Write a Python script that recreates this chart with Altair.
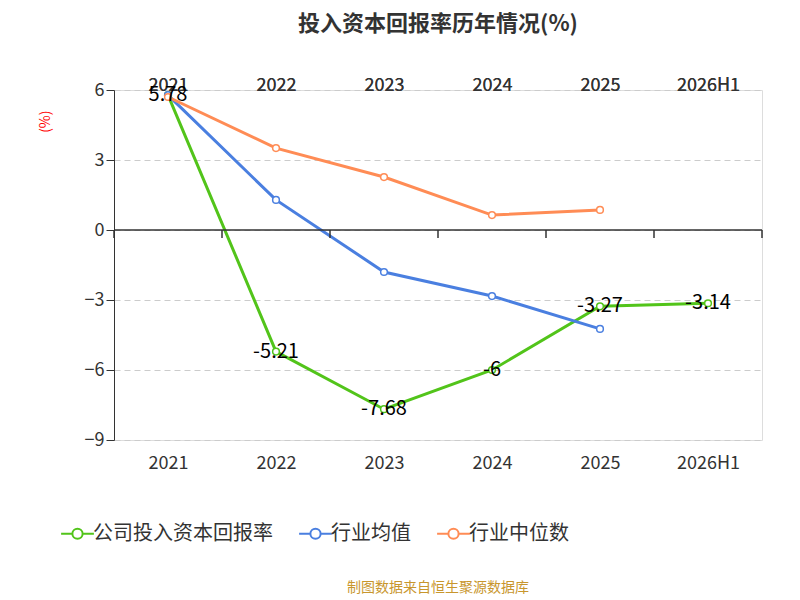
import altair as alt
import pandas as pd

years = ["2021", "2022", "2023", "2024", "2025", "2026H1"]
company = [5.78, -5.21, -7.68, -6, -3.27, -3.14]
industry_avg = [5.78, 1.29, -1.8, -2.83, -4.24, None]
industry_med = [5.7, 3.51, 2.27, 0.64, 0.86, None]
tick_pos = [0, 1, 2, 3, 4, 5, 6]

names = ["公司投入资本回报率", "行业均值", "行业中位数"]
colors = ["#52c41a", "#4a7fe0", "#ff8c55"]

rows = []
for name, vals in zip(names, [company, industry_avg, industry_med]):
    for y, v in zip(years, vals):
        if v is not None:
            rows.append({"year": y, "value": v, "series": name})
df = pd.DataFrame(rows)
lab = df[df.series == names[0]].copy()
lab["label"] = lab["value"].map(lambda v: f"{v:g}")

xs = alt.X("year:N", sort=years, scale=alt.Scale(type="point", padding=0.5),
           axis=alt.Axis(title=None, labelAngle=0, labelFontSize=18, labelColor="#333",
                         domain=False, ticks=False, labelPadding=14))
ys = alt.Y("value:Q", scale=alt.Scale(domain=[-9, 6], nice=False),
           axis=alt.Axis(values=[-9, -6, -3, 0, 3, 6], title="(%)", titleColor="red",
                         titleFontSize=14, titleFontWeight="normal", titleAngle=-90,
                         titleAnchor="end", titleX=-62, titleY=20,
                         labelFontSize=18, labelColor="#333", domainColor="#333",
                         tickColor="#333", tickSize=8, gridDash=[6, 4], gridColor="#ccc"))
sym = ("M -1.6 0 L -0.5 0 M 0.5 0 L 1.6 0 M -0.5 0 "
       "A 0.5 0.5 0 1 1 0.5 0 A 0.5 0.5 0 1 1 -0.5 0 Z")
color = alt.Color("series:N", sort=names, scale=alt.Scale(domain=names, range=colors),
                  legend=alt.Legend(orient="none", direction="horizontal", title=None,
                                    legendX=-48, legendY=432, labelFontSize=20,
                                    labelColor="#333", symbolSize=420, symbolStrokeWidth=2,
                                    symbolType=sym, symbolFillColor="white",
                                    labelLimit=300, columnPadding=22))

base = alt.Chart(df)
lines = base.mark_line(strokeWidth=3).encode(x=xs, y=ys, color=color)
pts = base.mark_point(filled=True, fill="white", size=45, strokeWidth=1.5, opacity=1).encode(
    x=xs, y=ys, stroke=alt.Stroke("series:N", scale=alt.Scale(domain=names, range=colors), legend=None))
zero = alt.Chart(pd.DataFrame({"z": [0]})).mark_rule(color="#333", strokeWidth=1.5).encode(y="z:Q")
ticks = alt.Chart(pd.DataFrame({"t": tick_pos})).mark_rule(color="#333", strokeWidth=1.5).encode(
    x=alt.X("t:Q", scale=alt.Scale(domain=[0, 6], nice=False), axis=None),
    y=alt.value(140), y2=alt.value(148))
texts = alt.Chart(lab).mark_text(fontSize=20, color="black").encode(
    x=xs, y=ys, text="label:N")
source = alt.Chart(pd.DataFrame({"s": ["制图数据来自恒生聚源数据库"]})).mark_text(
    fontSize=14, color="#c8962d").encode(x=alt.value(324), y=alt.value(498), text="s:N")

chart = alt.layer(lines, zero, pts, texts, ticks, source).resolve_scale(x="independent").properties(
    width=648, height=350,
    padding={"left": 30, "top": 5, "right": 5, "bottom": 5},
    title=alt.TitleParams("投入资本回报率历年情况(%)", fontSize=22, fontWeight="bold",
                          color="#333", anchor="middle", offset=40),
).configure_view(stroke=None).configure(font="Noto Sans CJK SC")

chart.save("out.html", embed_options={"renderer": "svg", "actions": False})
